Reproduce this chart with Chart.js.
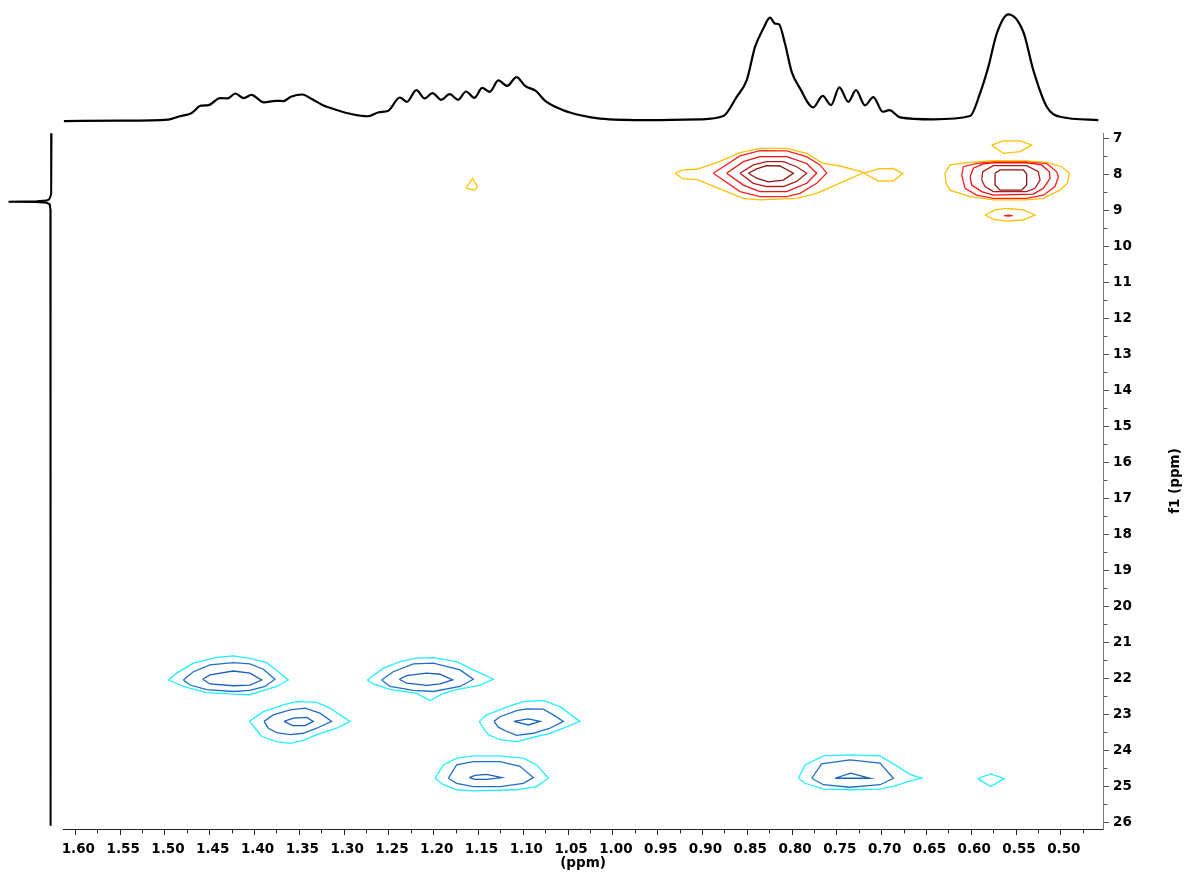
<!DOCTYPE html>
<html>
<head>
<meta charset="utf-8">
<title>HSQC</title>
<script src="https://cdn.jsdelivr.net/npm/chart.js@4.4.1/dist/chart.umd.min.js"></script>
<style>
  html, body { margin: 0; padding: 0; background: #ffffff; }
  #wrap { width: 1184px; height: 875px; position: relative; }
</style>
</head>
<body>
<div id="wrap"><canvas id="hsqc"></canvas></div>
<script>
// ---- axis windows (ppm) ----
const f2Window = [0.4529, 1.6138];   // 1H, drawn right-to-left
const f1Window = [6.853, 26.19];     // 13C, drawn top-to-bottom

// ---- 1D projection along f2 (top trace): ppm / intensity ----
const f2ProjPpm = [1.6128, 1.55, 1.4962, 1.4833, 1.4706, 1.4599, 1.4513, 1.4386, 1.4300, 1.4214, 1.4120, 1.4035,
  1.3895, 1.3766, 1.3680, 1.3594, 1.3467, 1.3360, 1.3253, 1.3082, 1.2911, 1.2740, 1.2612, 1.2506, 1.2378, 1.2300,
  1.2193, 1.2100, 1.2014, 1.1915, 1.1822, 1.1728, 1.1639, 1.1544, 1.1459, 1.1373, 1.1279, 1.1181, 1.1075, 1.0980,
  1.0860, 1.0755, 1.0561, 1.0348, 1.0144, 0.9586, 0.9027, 0.8767, 0.8618, 0.8506, 0.8413, 0.8321, 0.8246, 0.8190,
  0.8146, 0.8079, 0.8004, 0.7911, 0.7763, 0.7658, 0.7565, 0.7472, 0.7372, 0.7286, 0.7186, 0.7093, 0.6988, 0.6914,
  0.6795, 0.6423, 0.6013, 0.5902, 0.5809, 0.5715, 0.5586, 0.5418, 0.5307, 0.5157, 0.5009, 0.4581];
const f2ProjInt = [0, 0.4, 1.5, 4.8, 7.8, 15.4, 16, 23, 22.7, 27.6, 23, 26.3,
  18.7, 20.3, 20, 24.3, 26.6, 22, 16.7, 11.1, 6.8, 4.8, 8.8, 10.4, 23.6, 19.3,
  30.9, 22.7, 27.9, 21.3, 26.9, 21.3, 29.6, 23.3, 33.2, 29.3, 40.8, 35.2, 44.1, 35.2,
  30.2, 20.3, 11.1, 5.5, 2.5, 1.0, 1.7, 5, 24.3, 41, 74.3, 92.7, 103.7, 97.7,
  97, 77.7, 49.3, 32.7, 13.7, 25.3, 16, 33.7, 19.3, 31, 15.7, 24, 9.3, 11,
  3.7, 1.7, 5, 27.7, 54.3, 87.7, 107, 89.3, 51, 14.3, 4.3, 1];

// ---- 1D projection along f1 (left trace): ppm / intensity ----
const f1ProjPpm = [6.86, 7.6, 8.3, 8.55, 8.65, 8.70, 8.73, 8.75, 8.76, 8.77, 8.79, 8.82, 8.87, 8.97, 12, 18, 26.1];
const f1ProjInt = [0, 0.2, 0.3, 0.5, 1.5, 2.5, 5, 15, 43, 15, 5, 2.5, 1.6, 1.1, 0.9, 0.9, 0.9];

// ---- contour polygons, [f2 ppm, f1 ppm]; lv1 = lowest level ----
// cross peak 0.82 / 8.0
const c082_lv1 = [[0.9307,7.97],[0.9214,7.88],[0.9065,7.86],[0.8804,7.64],[0.8581,7.40],[0.8358,7.28],[0.8060,7.28],[0.7837,7.42],[0.7651,7.70],[0.7465,7.77],[0.7197,7.95],[0.7390,8.16],[0.7725,8.53],[0.7948,8.67],[0.8358,8.71],[0.8544,8.67],[0.8730,8.48],[0.9065,8.14],[0.9214,8.13]];
const c082_lv1b = [[0.7197,7.97],[0.7037,7.85],[0.6869,7.84],[0.6765,7.98],[0.6869,8.18],[0.7037,8.19]];
const c082_lv2 = [[0.8879,7.97],[0.8581,7.49],[0.8358,7.34],[0.8060,7.35],[0.7837,7.51],[0.7688,7.74],[0.7613,7.97],[0.7725,8.25],[0.7911,8.53],[0.8060,8.62],[0.8358,8.62],[0.8581,8.48]];
const c082_lv3 = [[0.8730,7.97],[0.8544,7.65],[0.8358,7.51],[0.8060,7.51],[0.7837,7.70],[0.7725,7.97],[0.7837,8.25],[0.8060,8.48],[0.8358,8.48],[0.8544,8.30]];
const c082_lv4 = [[0.8581,7.97],[0.8432,7.74],[0.8283,7.65],[0.8097,7.65],[0.7948,7.79],[0.7837,7.97],[0.7948,8.20],[0.8097,8.34],[0.8283,8.34],[0.8432,8.25]];
const c082_lv5 = [[0.8488,7.97],[0.8395,7.85],[0.8283,7.76],[0.8134,7.77],[0.7986,7.97],[0.8097,8.16],[0.8265,8.21],[0.8395,8.11]];
// cross peak 0.56 / 8.0
const c056_lv1 = [[0.6293,7.97],[0.6237,7.74],[0.6013,7.67],[0.5753,7.62],[0.5381,7.63],[0.5158,7.67],[0.4990,7.79],[0.4905,7.97],[0.4927,8.25],[0.5009,8.44],[0.5195,8.67],[0.5381,8.71],[0.5753,8.71],[0.6013,8.62],[0.6237,8.44],[0.6281,8.25]];
const c056_lv1t = [[0.5771,7.19],[0.5641,7.07],[0.5455,7.07],[0.5325,7.19],[0.5455,7.37],[0.5641,7.42]];
const c056_lv1b = [[0.5846,9.13],[0.5734,8.99],[0.5604,8.95],[0.5418,8.99],[0.5288,9.13],[0.5418,9.27],[0.5604,9.30],[0.5753,9.25]];
const c056_lv2 = [[0.6106,8.02],[0.6088,7.79],[0.5939,7.70],[0.5753,7.65],[0.5381,7.65],[0.5158,7.70],[0.5046,7.93],[0.5027,8.07],[0.5065,8.34],[0.5195,8.58],[0.5381,8.67],[0.5753,8.67],[0.5939,8.58],[0.6069,8.39]];
const c056_lv2b = [[0.5634,9.15],[0.5585,9.138],[0.5537,9.15],[0.5585,9.162]];
const c056_lv3 = [[0.6013,8.07],[0.5976,7.83],[0.5865,7.71],[0.5753,7.68],[0.5381,7.68],[0.5213,7.74],[0.5128,7.93],[0.5120,8.11],[0.5195,8.39],[0.5307,8.55],[0.5753,8.58],[0.5883,8.48],[0.5995,8.30]];
const c056_lv4 = [[0.5883,8.16],[0.5872,7.93],[0.5753,7.76],[0.5381,7.76],[0.5251,7.93],[0.5232,8.16],[0.5288,8.39],[0.5381,8.48],[0.5753,8.48],[0.5846,8.34]];
const c056_lv5 = [[0.5734,7.97],[0.5678,7.88],[0.5418,7.88],[0.5381,7.99],[0.5381,8.30],[0.5437,8.44],[0.5678,8.44],[0.5734,8.30]];
// weak peak 1.16 / 8.3
const c116_lv1 = [[1.1640,8.39],[1.1565,8.11],[1.1514,8.34],[1.1539,8.44]];
// cross peak 1.43 / 22.0
const c143_lv1 = [[1.4962,22.05],[1.4869,21.86],[1.4683,21.58],[1.4423,21.42],[1.4237,21.38],[1.4051,21.45],[1.3865,21.57],[1.3734,21.82],[1.3623,22.05],[1.3753,22.23],[1.4051,22.46],[1.4237,22.44],[1.4534,22.40],[1.4795,22.23]];
const c143_lv2 = [[1.4795,22.05],[1.4683,21.82],[1.4497,21.63],[1.4237,21.57],[1.4051,21.60],[1.3902,21.75],[1.3772,22.03],[1.3883,22.23],[1.4051,22.34],[1.4237,22.37],[1.4534,22.32],[1.4720,22.19]];
const c143_lv3 = [[1.4579,22.03],[1.4497,21.91],[1.4237,21.80],[1.4051,21.86],[1.3920,22.05],[1.4051,22.19],[1.4237,22.21],[1.4497,22.16]];
// cross peak 1.22 / 22.0
const c122_lv1 = [[1.2741,22.05],[1.2562,21.72],[1.2376,21.54],[1.2190,21.445],[1.2004,21.43],[1.1744,21.54],[1.1558,21.77],[1.1334,22.03],[1.1483,22.19],[1.1744,22.32],[1.1892,22.42],[1.2041,22.62],[1.2190,22.42],[1.2488,22.31],[1.2674,22.16]];
const c122_lv2 = [[1.2581,22.05],[1.2451,21.82],[1.2227,21.60],[1.2004,21.58],[1.1706,21.77],[1.1558,22.03],[1.1706,22.23],[1.2004,22.37],[1.2227,22.34],[1.2488,22.23]];
const c122_lv3 = [[1.2384,22.03],[1.2302,21.93],[1.2079,21.86],[1.1930,21.89],[1.1788,22.05],[1.1930,22.16],[1.2079,22.20],[1.2302,22.14]];
// cross peak 1.35 / 23.2
const c135_lv1 = [[1.4058,23.20],[1.3902,22.93],[1.3679,22.74],[1.3530,22.65],[1.3306,22.67],[1.3158,22.83],[1.3046,23.02],[1.2934,23.20],[1.3083,23.39],[1.3306,23.57],[1.3455,23.73],[1.3604,23.81],[1.3753,23.76],[1.3920,23.62],[1.3976,23.44]];
const c135_lv2 = [[1.3894,23.20],[1.3790,23.02],[1.3604,22.88],[1.3437,22.83],[1.3269,22.97],[1.3139,23.20],[1.3306,23.39],[1.3455,23.53],[1.3604,23.57],[1.3753,23.51],[1.3846,23.39]];
const c135_lv3 = [[1.3671,23.20],[1.3567,23.11],[1.3418,23.09],[1.3344,23.20],[1.3437,23.32],[1.3574,23.32]];
// cross peak 1.10 / 23.2
const c110_lv1 = [[1.1491,23.20],[1.1409,23.02],[1.1148,22.77],[1.0999,22.65],[1.0776,22.62],[1.0590,22.79],[1.0367,23.20],[1.0553,23.39],[1.0702,23.53],[1.0851,23.62],[1.1074,23.76],[1.1260,23.71],[1.1390,23.57],[1.1446,23.39]];
const c110_lv2 = [[1.1327,23.20],[1.1260,23.07],[1.1074,22.90],[1.0962,22.85],[1.0776,22.86],[1.0665,23.02],[1.0553,23.20],[1.0702,23.39],[1.0888,23.53],[1.1074,23.59],[1.1185,23.48],[1.1279,23.36]];
const c110_lv3 = [[1.1104,23.20],[1.0944,23.13],[1.0813,23.20],[1.0944,23.30]];
// cross peak 1.15 / 24.75
const c115_lv1 = [[1.1985,24.78],[1.1892,24.41],[1.1744,24.22],[1.1558,24.16],[1.1260,24.16],[1.0999,24.22],[1.0851,24.41],[1.0720,24.78],[1.0851,25.01],[1.1074,25.10],[1.1558,25.13],[1.1744,25.10],[1.1892,24.96]];
const c115_lv2 = [[1.1837,24.78],[1.1744,24.41],[1.1558,24.32],[1.1260,24.32],[1.1037,24.45],[1.0888,24.76],[1.0999,24.92],[1.1260,25.01],[1.1558,25.01],[1.1744,24.92]];
const c115_lv3 = [[1.1602,24.76],[1.1539,24.70],[1.1409,24.67],[1.1241,24.76],[1.1409,24.81],[1.1539,24.81]];
// cross peak 0.74 / 24.75
const c074_lv1 = [[0.7929,24.78],[0.7855,24.41],[0.7650,24.16],[0.7353,24.13],[0.7018,24.16],[0.6850,24.41],[0.6683,24.67],[0.6553,24.78],[0.6701,24.87],[0.6850,24.99],[0.7018,25.08],[0.7353,25.10],[0.7650,25.08],[0.7855,24.92]];
const c074_lv2 = [[0.7781,24.78],[0.7669,24.38],[0.7353,24.27],[0.7018,24.36],[0.6869,24.78],[0.7018,24.96],[0.7353,25.03],[0.7650,24.96]];
const c074_lv3 = [[0.7520,24.78],[0.7345,24.64],[0.7129,24.78]];
// weak peak 0.58 / 24.8
const c058_lv1 = [[0.5931,24.79],[0.5782,24.66],[0.5633,24.79],[0.5782,25.01]];

// ---- contour colours per level ----
const posColors = ['#FFC000', '#FF2020', '#EE1111', '#B01C1C', '#8A1414'];
const negColors = ['#22EEFF', '#1F6FC8', '#1A5FBF'];

const contourList = [
  [c082_lv1, posColors[0]], [c082_lv1b, posColors[0]], [c082_lv2, posColors[1]], [c082_lv3, posColors[2]],
  [c082_lv4, posColors[3]], [c082_lv5, posColors[4]],
  [c056_lv1, posColors[0]], [c056_lv1t, posColors[0]], [c056_lv1b, posColors[0]], [c056_lv2, posColors[1]],
  [c056_lv2b, posColors[1]], [c056_lv3, posColors[2]], [c056_lv4, posColors[3]], [c056_lv5, posColors[4]],
  [c116_lv1, posColors[0]],
  [c143_lv1, negColors[0]], [c143_lv2, negColors[1]], [c143_lv3, negColors[2]],
  [c122_lv1, negColors[0]], [c122_lv2, negColors[1]], [c122_lv3, negColors[2]],
  [c135_lv1, negColors[0]], [c135_lv2, negColors[1]], [c135_lv3, negColors[2]],
  [c110_lv1, negColors[0]], [c110_lv2, negColors[1]], [c110_lv3, negColors[2]],
  [c115_lv1, negColors[0]], [c115_lv2, negColors[1]], [c115_lv3, negColors[2]],
  [c074_lv1, negColors[0]], [c074_lv2, negColors[1]], [c074_lv3, negColors[2]],
  [c058_lv1, negColors[0]]
];

const FONT_FAMILY = '"DejaVu Sans", Verdana, sans-serif';
const labelFont = { family: FONT_FAMILY, size: 13.5, weight: 'bold' };

function closedRing(poly) {
  return poly.concat([poly[0]]).map(p => ({ x: p[0], y: p[1] }));
}

// major ticks full length, minor ticks drawn as a short dash from the axis line
function isMajorF2(v) { return Math.round(v * 1000) % 50 === 0; }
function isMajorF1(v) { return Math.abs(v - Math.round(v)) < 1e-6; }
function tickDash(isMajor) {
  return (ctx) => (ctx.tick && !isMajor(ctx.tick.value) ? [3.4, 40] : []);
}

const datasets = contourList.map(([poly, color]) => ({
  data: closedRing(poly),
  showLine: true,
  borderColor: color,
  borderWidth: 1.3,
  pointRadius: 0,
  tension: 0,
  fill: false,
  xAxisID: 'x',
  yAxisID: 'y'
}));

datasets.push({
  data: f2ProjPpm.map((v, i) => ({ x: v, y: f2ProjInt[i] })),
  showLine: true,
  borderColor: '#000000',
  borderWidth: 2.2,
  pointRadius: 0,
  cubicInterpolationMode: 'monotone',
  fill: false,
  clip: false,
  xAxisID: 'x',
  yAxisID: 'yTop'
});

datasets.push({
  data: f1ProjPpm.map((v, i) => ({ x: f1ProjInt[i], y: v })),
  showLine: true,
  borderColor: '#000000',
  borderWidth: 2,
  pointRadius: 0,
  tension: 0,
  fill: false,
  clip: false,
  xAxisID: 'xLeft',
  yAxisID: 'y'
});

// rotated f1 axis caption, reading bottom-to-top
const f1Caption = {
  id: 'f1Caption',
  afterDraw(chart) {
    const { ctx, chartArea } = chart;
    const s = chart.scales.y;
    ctx.save();
    ctx.translate(s.right - 9, (chartArea.top + chartArea.bottom) / 2);
    ctx.rotate(-Math.PI / 2);
    ctx.font = 'bold 13.5px ' + FONT_FAMILY;
    ctx.fillStyle = '#000000';
    ctx.textAlign = 'center';
    ctx.textBaseline = 'middle';
    ctx.fillText('f1 (ppm)', 0, 0);
    ctx.restore();
  }
};

new Chart(document.getElementById('hsqc'), {
  type: 'scatter',
  data: { datasets },
  options: {
    responsive: true,
    maintainAspectRatio: false,
    devicePixelRatio: 1,
    animation: false,
    events: [],
    layout: { padding: { left: 63, top: 133, right: 0, bottom: 0 } },
    plugins: { legend: { display: false }, tooltip: { enabled: false } },
    scales: {
      x: {
        type: 'linear',
        position: 'bottom',
        min: f2Window[0],
        max: f2Window[1],
        reverse: true,
        grid: { drawOnChartArea: false, tickLength: 6, color: '#222222', tickBorderDash: tickDash(isMajorF2) },
        border: { color: '#222222', width: 1 },
        ticks: {
          stepSize: 0.025,
          includeBounds: false,
          autoSkip: false,
          maxRotation: 0,
          padding: 6,
          labelOffset: 3,
          color: '#000000',
          font: labelFont,
          callback: (v) => (isMajorF2(v) ? v.toFixed(2) : '')
        },
        title: { display: true, text: '(ppm)', color: '#000000', font: labelFont, padding: { top: 0, bottom: 3 } },
        afterFit(scale) { scale.height = 46; }
      },
      y: {
        type: 'linear',
        position: 'right',
        min: f1Window[0],
        max: f1Window[1],
        reverse: true,
        grid: { drawOnChartArea: false, tickLength: 6, color: '#555555', tickBorderDash: tickDash(isMajorF1) },
        border: { color: '#777777', width: 1 },
        ticks: {
          stepSize: 0.5,
          includeBounds: false,
          autoSkip: false,
          padding: 4,
          color: '#000000',
          font: labelFont,
          callback: (v) => (isMajorF1(v) ? String(Math.round(v)) : '')
        },
        afterFit(scale) { scale.width = 81; }
      },
      yTop: { type: 'linear', display: false, min: -710, max: -12 },
      xLeft: { type: 'linear', display: false, reverse: true, min: -1051.5, max: -11.5 }
    }
  },
  plugins: [f1Caption]
});
</script>
</body>
</html>
